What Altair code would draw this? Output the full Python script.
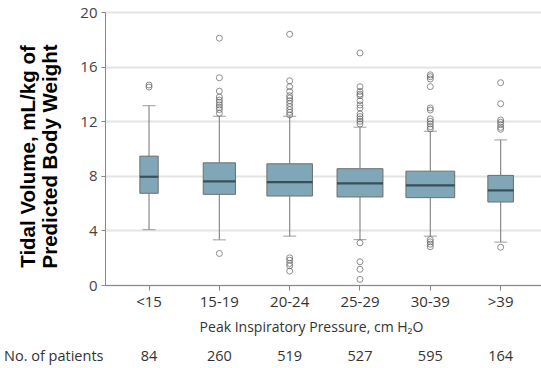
import altair as alt
import pandas as pd
import numpy as np

cats = ["<15", "15-19", "20-24", "25-29", "30-39", ">39"]
n_patients = [84, 260, 519, 527, 595, 164]
q1 = [6.72, 6.64, 6.52, 6.45, 6.40, 6.08]
median = [7.93, 7.59, 7.54, 7.45, 7.30, 6.93]
q3 = [9.44, 8.95, 8.88, 8.52, 8.34, 8.03]
whisk_lo = [4.06, 3.31, 3.58, 3.33, 3.58, 3.14]
whisk_hi = [13.14, 12.36, 12.36, 11.56, 11.26, 10.63]

out_lt15 = [14.65, 14.5]
out_15_19 = [18.08, 15.18, 14.2, 13.77, 13.55, 13.38, 13.19, 13.01, 12.85, 12.58, 2.31]
out_20_24 = [18.37, 14.96, 14.53, 14.18, 13.87, 13.7, 13.5, 13.3, 13.07, 12.85, 12.65, 12.46,
             1.99, 1.82, 1.58, 1.41, 1.02]
out_25_29 = [17.0, 14.53, 14.18, 13.99, 13.87, 13.5, 13.19, 12.97, 12.53, 12.34, 12.17, 11.99, 11.8,
             3.09, 1.70, 1.15, 0.41]
out_30_39 = [15.4, 15.26, 15.09, 14.53, 12.97, 12.82, 12.17, 11.99, 11.8, 11.6, 11.44,
             3.33, 3.16, 2.99, 2.8]
out_gt39 = [14.82, 13.28, 12.09, 11.92, 11.75, 11.55, 11.41, 2.77]

y_ticks = [0, 4, 8, 12, 16, 20]

W, H = 436, 273
FONT = "Open Sans"

box = pd.DataFrame({"cat": cats, "n": n_patients, "q1": q1, "med": median, "q3": q3,
                    "lo": whisk_lo, "hi": whisk_hi})
box["bw"] = 2 * np.sqrt(box["n"])
box["nlab"] = box["n"].astype(str)

outs = []
for c, lst in zip(cats, [out_lt15, out_15_19, out_20_24, out_25_29, out_30_39, out_gt39]):
    for v in lst:
        outs.append({"cat": c, "v": v})
outs = pd.DataFrame(outs)

xscale = alt.Scale(type="band", domain=cats, paddingInner=0, paddingOuter=0.1, align=0.63)
yscale = alt.Scale(domain=[0, 20], nice=False, zero=True)

x_enc = alt.X("cat:N", scale=xscale, sort=cats,
              axis=alt.Axis(title="Peak Inspiratory Pressure, cm H₂O", labelAngle=0,
                            labelFont=FONT, labelFontSize=15, labelColor="#333",
                            titleFont=FONT, titleFontSize=14, titleFontWeight="normal",
                            titleColor="#333", titlePadding=11, labelPadding=4,
                            titleX=206, titleAnchor="middle",
                            domainColor="#888", tickColor="#888", tickSize=5, grid=False))
y_axis = alt.Axis(title=["Tidal Volume, mL/kg of", "Predicted Body Weight"], values=y_ticks,
                  labelFont=FONT, labelFontSize=15, labelColor="#444", labelPadding=4,
                  titleFont="Liberation Sans", titleFontSize=20.5, titleFontWeight="bold",
                  titleColor="#000", titleLineHeight=22, titlePadding=19,
                  titleY=144, titleAnchor="middle",
                  domainColor="#888", tickColor="#888", tickSize=4,
                  grid=True, gridColor="#e4e4e4", gridWidth=2)

base = alt.Chart(box)

whisk_lo_rule = base.mark_rule(color="#8a8a8a", strokeWidth=1.2).encode(
    x=x_enc, y=alt.Y("lo:Q", scale=yscale, axis=y_axis), y2="q1:Q")
whisk_hi_rule = base.mark_rule(color="#8a8a8a", strokeWidth=1.2).encode(
    x="cat:N", y="q3:Q", y2="hi:Q")
cap_lo = base.mark_tick(color="#8a8a8a", thickness=1.2, size=13).encode(x="cat:N", y="lo:Q")
cap_hi = base.mark_tick(color="#8a8a8a", thickness=1.2, size=13).encode(x="cat:N", y="hi:Q")
bars = base.mark_bar(color="#7fa7b8", stroke="#6e6e6e", strokeWidth=1).encode(
    x="cat:N", y="q1:Q", y2="q3:Q", size=alt.Size("bw:Q", scale=None, legend=None))
med = base.mark_tick(color="#1d2b31", thickness=2.2).encode(
    x="cat:N", y="med:Q", size=alt.Size("bw:Q", scale=None, legend=None))
pts = alt.Chart(outs).mark_point(filled=False, color="#5e5e5e", size=36, strokeWidth=1).encode(
    x="cat:N", y="v:Q")
ntext = base.mark_text(font=FONT, fontSize=14.5, color="#333", baseline="middle").encode(
    x="cat:N", y=alt.value(H + 72), text="nlab:N")
nlabel = alt.Chart(pd.DataFrame({"t": ["No. of patients"]})).mark_text(
    font=FONT, fontSize=14.5, color="#333", align="left", baseline="middle").encode(
    x=alt.value(-101), y=alt.value(H + 72), text="t:N")

chart = alt.layer(whisk_lo_rule, whisk_hi_rule, cap_lo, cap_hi, bars, med, pts, ntext, nlabel).properties(
    width=W, height=H,
    autosize=alt.AutoSizeParams(type="none"),
    padding={"left": 105, "top": 12, "right": 0, "bottom": 83},
    background="white",
).configure_view(stroke=None).configure_axis(domainWidth=1)

chart.save("out.html", embed_options={"renderer": "svg", "actions": False})
